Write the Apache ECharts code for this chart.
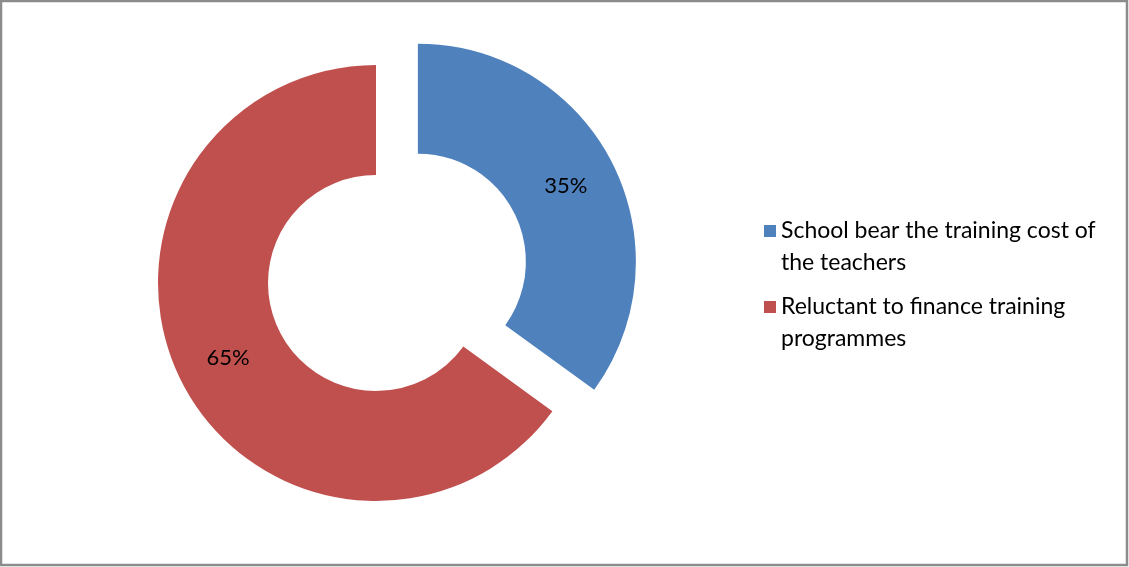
<!DOCTYPE html>
<html>
<head>
<meta charset="utf-8">
<script src="https://cdn.jsdelivr.net/npm/echarts@6/dist/echarts.min.js"></script>
<style>
  html, body { margin: 0; padding: 0; background: #fff; }
  #main { width: 1129px; height: 567px; }
</style>
</head>
<body>
<div id="main"></div>
<script>
// chart data
var categories = ['School bear the training cost of the teachers', 'Reluctant to finance training programmes']
var legendLines = {
  'School bear the training cost of the teachers': 'School bear the training cost of\nthe teachers',
  'Reluctant to finance training programmes': 'Reluctant to finance training\nprogrammes'
}
var values = [35, 65]
var colors = ['#4f81bd', '#c0504d']

var chart = echarts.init(document.getElementById('main'))

var pieData = categories.map(function (name, i) {
  return {
    name: name,
    value: values[i],
    selected: i === 0,
    itemStyle: { color: colors[i] }
  }
})

chart.setOption({
  animation: false,
  graphic: [{
    type: 'rect',
    shape: { x: 1, y: 1, width: 1126, height: 564 },
    style: { fill: null, stroke: '#8c8c8c', lineWidth: 2.5 },
    silent: true
  }],
  legend: {
    orient: 'vertical',
    left: 764,
    top: 183,
    padding: 0,
    itemWidth: 12,
    itemHeight: 12,
    itemGap: -20,
    icon: 'rect',
    selectedMode: false,
    // leading blank line keeps the square level with the first text line
    formatter: function (name) {
      return ' \n' + legendLines[name]
    },
    textStyle: {
      fontFamily: 'Lato',
      fontSize: 23,
      color: '#000',
      lineHeight: 32
    },
    data: categories
  },
  series: [{
    type: 'pie',
    center: [376, 283],
    radius: [108, 218],
    startAngle: 90,
    clockwise: true,
    selectedMode: 'single',
    selectedOffset: 47,
    avoidLabelOverlap: false,
    label: {
      show: true,
      position: 'inside',
      formatter: '{c}%',
      fontFamily: 'Lato',
      fontSize: 22,
      color: '#000'
    },
    labelLine: { show: false },
    emphasis: { disabled: true },
    data: pieData
  }]
})
</script>
</body>
</html>
